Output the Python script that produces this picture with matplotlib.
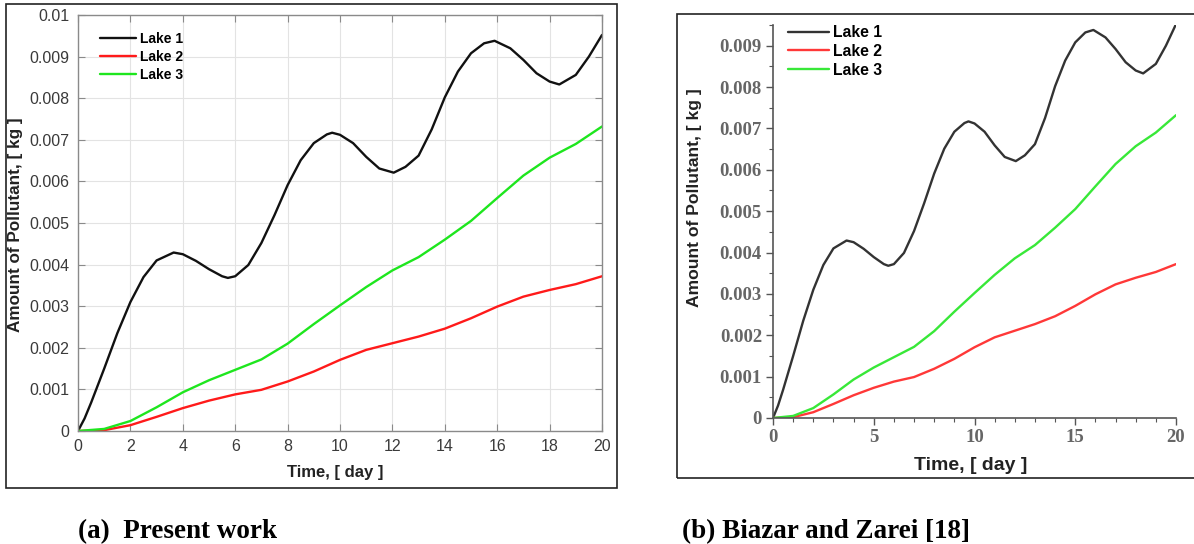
#!/usr/bin/env python3

import matplotlib
matplotlib.use("Agg")
import matplotlib.pyplot as plt
from matplotlib.patches import Rectangle
from matplotlib.ticker import MultipleLocator


# Lake 1 (day, 1e-3 kg), extra points at the turns
t1 = [0, 0.25, 0.5, 1, 1.5, 2, 2.5, 3, 3.65, 4, 4.5, 5, 5.5, 5.72, 6, 6.5,
      7, 7.5, 8, 8.5, 9, 9.5, 9.7, 10, 10.5, 11, 11.5, 12.05, 12.5, 13,
      13.5, 14, 14.5, 15, 15.5, 15.9, 16.5, 17, 17.5, 18, 18.37, 19, 19.5,
      20]
lake1 = [0, 0.3, 0.68, 1.5, 2.35, 3.1, 3.7, 4.1, 4.29, 4.25, 4.09, 3.89,
         3.72, 3.68, 3.72, 3.99, 4.52, 5.19, 5.91, 6.51, 6.92, 7.13, 7.17,
         7.12, 6.92, 6.59, 6.31, 6.21, 6.35, 6.62, 7.25, 8.02, 8.64, 9.08,
         9.32, 9.38, 9.2, 8.92, 8.6, 8.4, 8.33, 8.56, 9.0, 9.52]
lake1 = [v * 1e-3 for v in lake1]

# Lakes 2 and 3, read every day (1e-3 kg)
t23 = list(range(21))
lake2 = [0, 0.02, 0.14, 0.34, 0.55, 0.73, 0.88, 0.99, 1.19, 1.43, 1.71,
         1.95, 2.11, 2.27, 2.46, 2.71, 2.99, 3.23, 3.39, 3.53, 3.72]
lake3 = [0, 0.05, 0.24, 0.57, 0.93, 1.22, 1.47, 1.72, 2.1, 2.57, 3.02,
         3.46, 3.86, 4.18, 4.6, 5.05, 5.6, 6.14, 6.57, 6.9, 7.32]
lake2 = [v * 1e-3 for v in lake2]
lake3 = [v * 1e-3 for v in lake3]

series = ["Lake 1", "Lake 2", "Lake 3"]
left_yticks = [i / 1000 for i in range(11)]
left_ylabels = ["0", "0.001", "0.002", "0.003", "0.004", "0.005", "0.006",
                "0.007", "0.008", "0.009", "0.01"]
right_yticks = [i / 1000 for i in range(10)]
right_ylabels = ["0", "0.001", "0.002", "0.003", "0.004", "0.005", "0.006",
                 "0.007", "0.008", "0.009"]
captions = ["(a)  Present work", "(b) Biazar and Zarei [18]"]

W, H = 1194, 544
fig = plt.figure(figsize=(W / 100, H / 100), dpi=100)


def box(x0, y0, x1, y1):
    # pixel box (top-left origin) -> figure fraction rect
    return [x0 / W, 1 - y1 / H, (x1 - x0) / W, (y1 - y0) / H]


# panel frames
for (x0, y0, x1, y1) in [(6, 4, 617, 488), (677, 14, 1200, 478)]:
    r = box(x0, y0, x1, y1)
    fig.patches.append(Rectangle((r[0], r[1]), r[2], r[3],
                                 transform=fig.transFigure, fill=False,
                                 edgecolor="#222222", linewidth=1.2))

line_kw = dict(lw=1.7, solid_joinstyle="round", solid_capstyle="round")

# ---- (a) present work, MATLAB look ----
sans = "Liberation Sans"
ax = fig.add_axes(box(78, 15, 602, 431))
ax.plot(t1, lake1, color="#111111", label=series[0], **line_kw)
ax.plot(t23, lake2, color="#ff1a1a", label=series[1], **line_kw)
ax.plot(t23, lake3, color="#1ee61e", label=series[2], **line_kw)
ax.set_xlim(0, 20)
ax.set_ylim(0, 0.01)
ax.set_xticks(range(0, 21, 2))
ax.set_yticks(left_yticks)
ax.set_yticklabels(left_ylabels)
ax.grid(True, color="#e3e3e3", lw=0.8)
ax.set_axisbelow(True)
for s in ax.spines.values():
    s.set_color("#8a8a8a")
    s.set_linewidth(1.0)
ax.tick_params(direction="in", length=5, width=0.8, color="#8a8a8a",
               top=True, right=True, labelsize=11.5, labelcolor="#3a3a3a",
               pad=6)
for lab in ax.get_xticklabels() + ax.get_yticklabels():
    lab.set_family(sans)
ax.set_xlabel("Time, [ day ]", fontsize=12, fontweight="bold",
              family=sans, color="#222222", va="center")
ax.xaxis.set_label_coords(0.49, -0.099)
ax.set_ylabel("Amount of Pollutant, [ kg ]", fontsize=12.3,
              fontweight="bold", family=sans, color="#222222", va="center")
ax.yaxis.set_label_coords(-0.12, 0.495)
ax.legend(loc="upper left", bbox_to_anchor=(0.042, 0.96), frameon=False,
          borderpad=0, borderaxespad=0, handlelength=2.6,
          handletextpad=0.3, labelspacing=0.3,
          prop={"family": sans, "weight": "bold", "size": 10})

# ---- (b) Biazar and Zarei ----
serif = "Liberation Serif"
bx = fig.add_axes(box(773, 25, 1176, 418))
bx.plot(t1, lake1, color="#333333", label=series[0], **line_kw)
bx.plot(t23, lake2, color="#ff3838", label=series[1], **line_kw)
bx.plot(t23, lake3, color="#38e838", label=series[2], **line_kw)
bx.set_xlim(0, 20)
bx.set_ylim(0, 0.0095)
bx.set_xticks(range(0, 21, 5))
bx.xaxis.set_minor_locator(MultipleLocator(1))
bx.set_yticks(right_yticks)
bx.set_yticklabels(right_ylabels)
bx.yaxis.set_minor_locator(MultipleLocator(0.0005))
bx.spines["top"].set_visible(False)
bx.spines["right"].set_visible(False)
for s in ("left", "bottom"):
    bx.spines[s].set_color("#555555")
    bx.spines[s].set_linewidth(1.2)
bx.tick_params(which="major", direction="out", length=5, width=1,
               color="#555555", labelsize=13.5, labelcolor="#666666", pad=3)
bx.tick_params(which="minor", direction="out", length=3, width=0.8,
               color="#555555")
for lab in bx.get_xticklabels() + bx.get_yticklabels():
    lab.set_family(serif)
    lab.set_fontweight("bold")
bx.set_xlabel("Time, [ day ]", fontsize=14, fontweight="bold",
              family=sans, color="#222222", va="center")
bx.xaxis.set_label_coords(0.49, -0.12)
bx.set_ylabel("Amount of Pollutant, [ kg ]", fontsize=12.6,
              fontweight="bold", family=sans, color="#222222", va="center")
bx.yaxis.set_label_coords(-0.194, 0.562)
bx.legend(loc="upper left", bbox_to_anchor=(0.037, 1.0), frameon=False,
          borderpad=0, borderaxespad=0, handlelength=2.6,
          handletextpad=0.3, labelspacing=0.25,
          prop={"family": sans, "weight": "bold", "size": 11.3})

# captions under the panels
for x, text in zip([78, 682], captions):
    fig.text(x / W, 1 - 538 / H, text, family="Liberation Serif",
             fontweight="bold", fontsize=19.5, va="baseline", ha="left")

fig.savefig("out.png", dpi=100)
